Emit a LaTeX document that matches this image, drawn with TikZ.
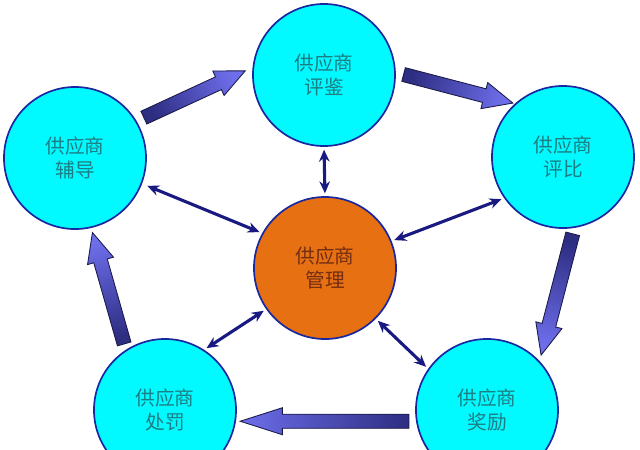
\documentclass[tikz,border=0pt]{standalone}
\usepackage{fontspec}
\newfontfamily\cjk{Noto Sans CJK SC}
\usepackage{tikz}
\usetikzlibrary{calc}
\usetikzlibrary {arrows.meta}
\definecolor{ballfill}{RGB}{0,250,255}
\definecolor{balltext}{RGB}{30,125,130}
\definecolor{ballline}{RGB}{25,40,160}
\definecolor{corefill}{RGB}{230,112,18}
\definecolor{coretext}{RGB}{115,45,20}
\definecolor{linkcol}{RGB}{25,25,130}
\definecolor{arrowtail}{RGB}{45,45,130}
\definecolor{arrowhead}{RGB}{110,110,235}
\definecolor{arrowline}{RGB}{25,25,70}
\tikzset{supplier/.style={circle,draw=ballline,fill=ballfill,line width=1.2pt,
inner sep=0pt,minimum size=3.55cm,align=center,text=balltext,
font=\cjk\fontsize{14}{17}\selectfont}}
\tikzset{core/.style={supplier,fill=corefill,text=coretext}}
\tikzset{link/.style={draw=linkcol,line width=2.2pt,
{Stealth[length=8.5pt,width=7.5pt]}-{Stealth[length=8.5pt,width=7.5pt]},
shorten <=2pt,shorten >=2pt}}
\tikzset{bigarrow/.style={draw=arrowline,line width=0.6pt,
top color=arrowhead,bottom color=arrowtail}}
% block arrow: from, to, tail gap, tip gap, head length
\newcommand{\bigarrow}[5]{%
  \coordinate (bas) at ($(#1)!#3!(#2)$);
  \coordinate (bae) at ($(#2)!#4!(#1)$);
  \coordinate (bah) at ($(bae)!#5!(bas)$);
  \pgfmathanglebetweenpoints{\pgfpointanchor{bas}{center}}{\pgfpointanchor{bae}{center}}%
  \pgfmathsetmacro{\shadeang}{\pgfmathresult-90}%
  \draw[bigarrow,shading angle=\shadeang] ($(bas)!5pt!90:(bae)$) -- ($(bah)!5pt!-90:(bas)$)
    -- ($(bah)!9.6pt!-90:(bas)$) -- (bae) -- ($(bah)!9.6pt!90:(bas)$)
    -- ($(bah)!5pt!90:(bas)$) -- ($(bas)!5pt!-90:(bae)$) -- cycle;
}

\begin{document}
\begin{tikzpicture}[x=0.025cm,y=-0.025cm]
        \useasboundingbox (0,0) rectangle (640,449);
        \clip (0,0) rectangle (640,449);

        \node[core] (mgmt) at (325,268) {供应商\\管理};
        \node[supplier] (eval) at (324,75) {供应商\\评鉴};
        \node[supplier] (coach) at (75,158) {供应商\\辅导};
        \node[supplier] (rate) at (563,157) {供应商\\评比};
        \node[supplier] (reward) at (487,410) {供应商\\奖励};
        \node[supplier] (punish) at (165,410) {供应商\\处罚};

        \draw[link] (eval.south) -- (mgmt.north);
        \draw[link,shorten <=4pt] (coach.339) -- (mgmt.151);
        \draw[link] (rate.215) -- (mgmt.22);
        \draw[link] (punish.57) -- (mgmt.215);
        \draw[link] (reward.145) -- (mgmt.315);

        \bigarrow{coach.31}{eval.174}{5.7pt}{5.7pt}{21pt}
        \bigarrow{eval.2}{rate.132}{5.7pt}{1.5pt}{21pt}
        \bigarrow{rate.279}{reward.43}{4.3pt}{4.3pt}{22pt}
        \bigarrow{reward.189}{punish.351}{5pt}{3pt}{30pt}
        \bigarrow{punish.123}{coach.283}{4.3pt}{3.3pt}{21pt}

    \end{tikzpicture}
\end{document}
